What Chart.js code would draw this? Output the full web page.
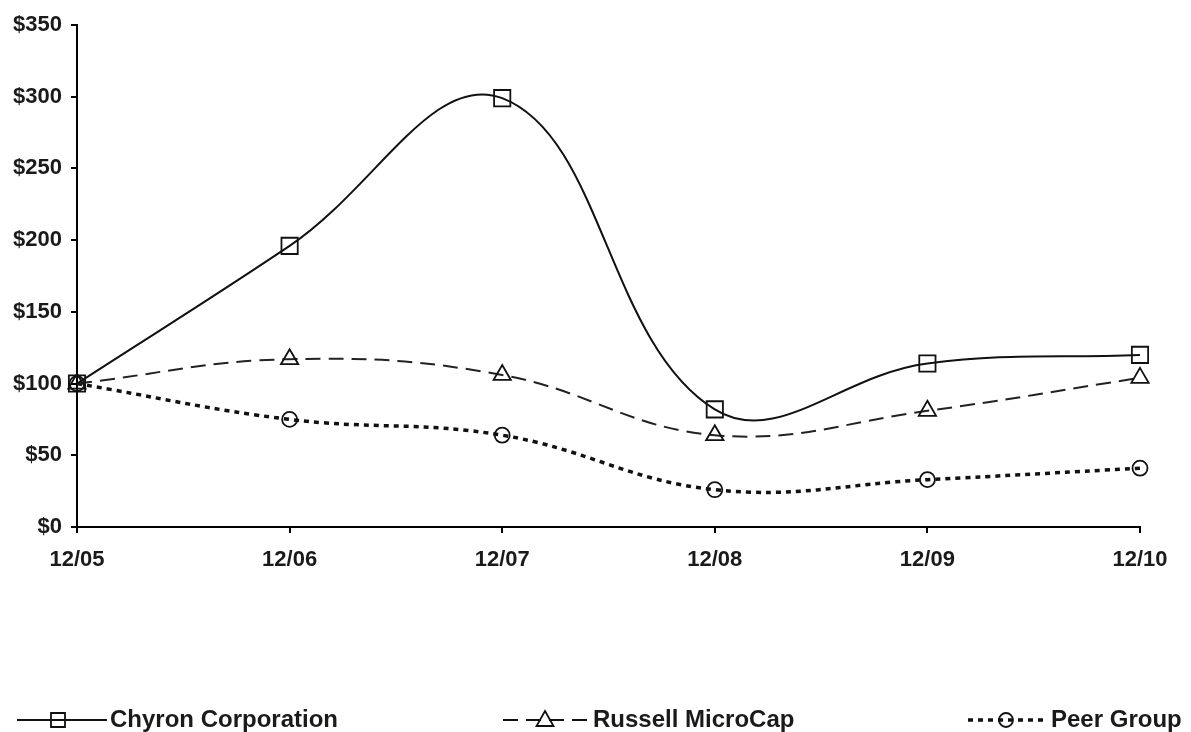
<!DOCTYPE html>
<html><head><meta charset="utf-8">
<script src="https://cdn.jsdelivr.net/npm/chart.js@4/dist/chart.umd.min.js"></script>
<style>html,body{margin:0;padding:0;background:#fff;}canvas{display:block;}</style>
</head><body>
<canvas id="c" width="1191" height="732"></canvas>
<script>
const categories = ['12/05','12/06','12/07','12/08','12/09','12/10'];
const chyron = [100, 196, 299, 82, 114, 120];
const russell = [100, 117, 106, 64, 81, 104];
const peer = [100, 75, 64, 26, 33, 41];
const seriesNames = ['Chyron Corporation', 'Russell MicroCap', 'Peer Group'];
const yTicks = [0, 50, 100, 150, 200, 250, 300, 350];

const FONT = {family: '"Liberation Sans", Arial, sans-serif', size: 22, weight: 'bold'};

const legendPlugin = {
  id: 'customLegend',
  afterDraw(chart) {
    const ctx = chart.ctx;
    const y = 720;
    const items = [
      {x0: 17, x1: 107, mx: 58, tx: 110, style: 'rect', dash: [], lw: 2, name: seriesNames[0]},
      {x0: 503, x1: 590, mx: 545, tx: 593, style: 'triangle', dash: [15, 8], lw: 2, name: seriesNames[1]},
      {x0: 968, x1: 1045, mx: 1006, tx: 1051, style: 'circle', dash: [5, 5], lw: 3.5, name: seriesNames[2]}
    ];
    ctx.save();
    items.forEach(it => {
      ctx.strokeStyle = '#111';
      ctx.lineWidth = it.lw;
      ctx.setLineDash(it.dash);
      ctx.beginPath(); ctx.moveTo(it.x0, y); ctx.lineTo(it.x1, y); ctx.stroke();
      ctx.setLineDash([]);
      ctx.lineWidth = 1.8;
      ctx.beginPath();
      if (it.style === 'rect') { ctx.rect(it.mx - 7, y - 7, 14, 14); }
      else if (it.style === 'triangle') { ctx.moveTo(it.mx, y - 9); ctx.lineTo(it.mx + 8.5, y + 6); ctx.lineTo(it.mx - 8.5, y + 6); ctx.closePath(); }
      else { ctx.arc(it.mx, y, 7, 0, Math.PI * 2); }
      ctx.stroke();
      ctx.fillStyle = '#1a1a1a';
      ctx.font = 'bold 24px "Liberation Sans", Arial, sans-serif';
      ctx.textBaseline = 'middle';
      ctx.textAlign = 'left';
      ctx.fillText(it.name, it.tx, y);
    });
    ctx.restore();
  }
};

new Chart(document.getElementById('c'), {
  type: 'line',
  data: {
    labels: categories,
    datasets: [
      {label: seriesNames[0], data: chyron, borderColor: '#111', borderWidth: 2, tension: 0.4,
       pointStyle: 'rect', pointRadius: 11.5, pointBorderWidth: 1.8, pointBorderColor: '#111', pointBackgroundColor: 'rgba(0,0,0,0)'},
      {label: seriesNames[1], data: russell, borderColor: '#222', borderWidth: 2, borderDash: [15, 8], tension: 0.4,
       pointStyle: 'triangle', pointRadius: 10, pointBorderWidth: 1.8, pointBorderColor: '#111', pointBackgroundColor: 'rgba(0,0,0,0)'},
      {label: seriesNames[2], data: peer, borderColor: '#111', borderWidth: 3.5, borderDash: [5, 5], tension: 0.4,
       pointStyle: 'circle', pointRadius: 7.5, pointBorderWidth: 1.8, pointBorderColor: '#111', pointBackgroundColor: 'rgba(0,0,0,0)'}
    ]
  },
  options: {
    responsive: false,
    animation: false,
    layout: {padding: {left: 0, right: 51, top: 25, bottom: 165}},
    plugins: {legend: {display: false}, tooltip: {enabled: false}},
    scales: {
      x: {
        type: 'category', offset: false,
        border: {color: '#000', width: 2},
        grid: {drawOnChartArea: false, drawTicks: true, tickLength: 6, color: '#000', lineWidth: 2},
        ticks: {color: '#1a1a1a', font: FONT, padding: 14, maxRotation: 0, autoSkip: false},
        afterFit(s) { s.height = 40; }
      },
      y: {
        min: 0, max: 350,
        border: {color: '#000', width: 2},
        grid: {drawOnChartArea: false, drawTicks: true, tickLength: 6, color: '#000', lineWidth: 2},
        afterBuildTicks(s) { s.ticks = yTicks.map(v => ({value: v})); },
        ticks: {color: '#1a1a1a', font: FONT, padding: 9, callback: v => '$' + v},
        afterFit(s) { s.width = 77; }
      }
    }
  },
  plugins: [legendPlugin]
});
</script>
</body></html>
